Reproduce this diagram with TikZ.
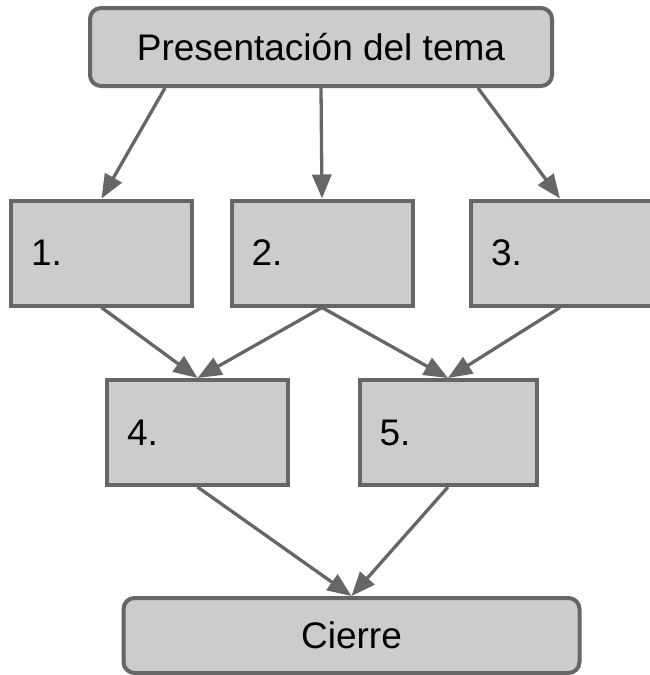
\documentclass[tikz,border=0pt]{standalone}
\usepackage{fontspec}
\setmainfont{Liberation Sans}
\usetikzlibrary{arrows.meta}
\definecolor{boxfill}{HTML}{CCCCCC}
\definecolor{boxline}{HTML}{666666}
\tikzset{
  base/.style={draw=boxline, fill=boxfill, line width=4pt, font=\fontsize{37}{44}\selectfont, inner sep=0pt},
  roundbox/.style={base, rounded corners=11pt, minimum width=#1, minimum height=78pt},
  numbox/.style={base, minimum height=105pt, text width=141pt, inner xsep=20pt, align=left},
  conn/.style={draw=boxline, line width=3.3pt, -{Triangle[length=24pt,width=19pt]}}
}
\begin{document}
\begin{tikzpicture}[x=1pt,y=-1pt]
\useasboundingbox (0,0) rectangle (649,675);
\node[roundbox=462pt] (top) at (321,47) {Presentación del tema};
\node[numbox] (b1) at (101.5,253) {1.};
\node[numbox] (b2) at (322,253) {2.};
\node[numbox, text width=146pt] (b3) at (564,253) {3.};
\node[numbox] (b4) at (197.5,432.5) {4.};
\node[numbox, text width=137pt] (b5) at (448,432.5) {5.};
\node[roundbox=456pt, minimum height=75pt] (end) at (351.5,635.5) {Cierre};
\draw[conn] ([xshift=-156pt]top.south) -- (b1.north);
\draw[conn] (top.south) -- (b2.north);
\draw[conn] ([xshift=157pt]top.south) -- ([xshift=-4pt]b3.north);
\draw[conn] (b1.south) -- (b4.north);
\draw[conn] (b2.south) -- (b4.north);
\draw[conn] (b2.south) -- (b5.north);
\draw[conn] ([xshift=-4pt]b3.south) -- (b5.north);
\draw[conn] (b4.south) -- (end.north);
\draw[conn] (b5.south) -- (end.north);
\end{tikzpicture}
\end{document}
